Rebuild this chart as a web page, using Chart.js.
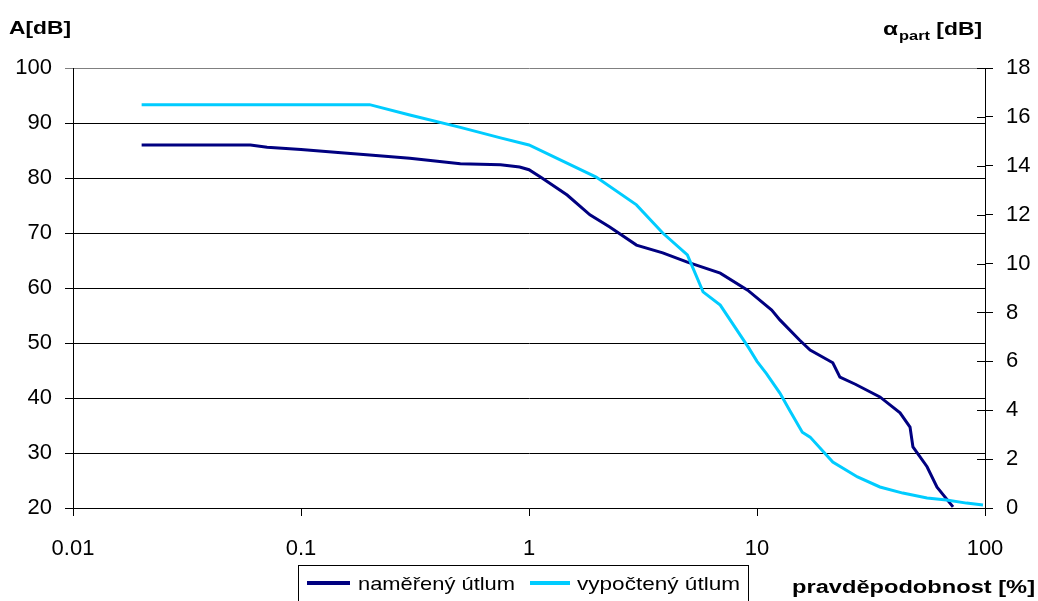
<!DOCTYPE html>
<html>
<head>
<meta charset="utf-8">
<script src="https://cdn.jsdelivr.net/npm/chart.js@4/dist/chart.umd.min.js"></script>
<style>
html,body{margin:0;padding:0;background:#fff;}
#wrap{width:1038px;height:601px;position:relative;}
</style>
</head>
<body>
<div id="wrap"><canvas id="c" width="1038" height="601"></canvas></div>
<script>
// Measured attenuation (left axis A[dB])
const measuredX = [0.02, 0.06, 0.071, 0.1, 0.15, 0.2, 0.3, 0.5, 0.75, 0.91, 1.0, 1.14, 1.47, 1.85, 2.26, 2.96, 3.86, 4.95, 6.9, 9.1, 11.6, 12.6, 15.4, 17.1, 21.5, 23.1, 27, 34.6, 42.4, 46.9, 48.3, 55.7, 61.6, 72.4];
const measuredY = [86, 86, 85.6, 85.2, 84.6, 84.2, 83.6, 82.6, 82.4, 82, 81.5, 80, 76.9, 73.3, 71.1, 67.8, 66.4, 64.7, 62.7, 59.6, 56, 54.2, 50.5, 48.7, 46.4, 43.8, 42.5, 40.2, 37.3, 34.7, 31.1, 27.5, 23.8, 20.2];
// Calculated attenuation (right axis alpha_part [dB])
const calcX = [0.02, 0.2, 0.3, 0.5, 0.75, 1.0, 1.97, 2.96, 3.86, 4.95, 5.8, 6.9, 9.2, 10, 11, 12.6, 13.9, 15.8, 17.1, 21.5, 27.6, 34.6, 43.6, 55.7, 67.8, 83, 98];
const calcY = [16.5, 16.5, 16.08, 15.57, 15.14, 14.85, 13.54, 12.4, 11.25, 10.35, 8.84, 8.3, 6.55, 6.0, 5.5, 4.7, 4.0, 3.1, 2.9, 1.88, 1.27, 0.86, 0.61, 0.41, 0.33, 0.2, 0.12];
// Tick labels
const xTicks = [0.01, 0.1, 1, 10, 100];
const xTickLabels = ['0.01', '0.1', '1', '10', '100'];
const seriesNames = ['naměřený útlum', 'vypočtený útlum'];
const seriesColors = ['#000080', '#00CCFF'];

const FONT = '"Liberation Sans", Arial, sans-serif';

function zip(xs, ys){ return xs.map((x,i)=>({x:x, y:ys[i]})); }

function stretchText(ctx, text, x, y, font, targetW){
  ctx.save();
  ctx.font = font;
  const w = ctx.measureText(text).width;
  const s = targetW ? targetW / w : 1;
  ctx.translate(x, y);
  ctx.scale(s, 1);
  ctx.fillText(text, 0, 0);
  ctx.restore();
  return w * s;
}

const decor = {
  id: 'decor',
  afterDraw(chart){
    const ctx = chart.ctx;
    const y2 = chart.scales.y2;
    const ca = chart.chartArea;
    ctx.save();
    // inner parts of right-axis ticks (cross ticks)
    ctx.strokeStyle = '#000';
    ctx.lineWidth = 1;
    y2.ticks.forEach(t => {
      const py = Math.round(y2.getPixelForValue(t.value)) + 0.5;
      ctx.beginPath();
      ctx.moveTo(ca.right - 8, py);
      ctx.lineTo(ca.right, py);
      ctx.stroke();
    });
    ctx.fillStyle = '#000';
    ctx.textBaseline = 'alphabetic';
    ctx.textAlign = 'left';
    // axis titles
    stretchText(ctx, 'A[dB]', 9, 34, 'bold 19px ' + FONT, 62);
    // alpha_part [dB]
    ctx.font = 'bold 19px ' + FONT;
    let x = 883;
    x += stretchText(ctx, 'α', x, 35, 'bold 19px ' + FONT, 15);
    x += stretchText(ctx, 'part', x + 1, 40, 'bold 13px ' + FONT, 31);
    stretchText(ctx, ' [dB]', x + 1, 35, 'bold 19px ' + FONT, 52);
    stretchText(ctx, 'pravděpodobnost [%]', 792, 593, 'bold 18px ' + FONT, 243);
    // legend
    ctx.strokeStyle = '#000';
    ctx.lineWidth = 1;
    ctx.strokeRect(298.5, 565.5, 450, 60);
    const items = [
      {x0:307, x1:350, tx:358, tw:157},
      {x0:530, x1:570, tx:577, tw:163}
    ];
    items.forEach((it, i) => {
      ctx.strokeStyle = seriesColors[i];
      ctx.lineWidth = 4;
      ctx.beginPath();
      ctx.moveTo(it.x0, 583);
      ctx.lineTo(it.x1, 583);
      ctx.stroke();
      ctx.fillStyle = '#000';
      stretchText(ctx, seriesNames[i], it.tx, 590, '19px ' + FONT, it.tw);
    });
    ctx.restore();
  }
};

new Chart(document.getElementById('c'), {
  type: 'line',
  data: {
    datasets: [
      {
        label: seriesNames[0],
        data: zip(measuredX, measuredY),
        yAxisID: 'y',
        borderColor: seriesColors[0],
        backgroundColor: seriesColors[0],
        borderWidth: 3,
        pointRadius: 0,
        tension: 0,
        fill: false,
        order: 1
      },
      {
        label: seriesNames[1],
        data: zip(calcX, calcY),
        yAxisID: 'y2',
        borderColor: seriesColors[1],
        backgroundColor: seriesColors[1],
        borderWidth: 3,
        pointRadius: 0,
        tension: 0,
        fill: false,
        order: 0
      }
    ]
  },
  options: {
    responsive: false,
    animation: false,
    devicePixelRatio: 1,
    layout: { padding: { top: 68, left: 0, right: 0, bottom: 0 } },
    plugins: { legend: { display: false }, tooltip: { enabled: false } },
    scales: {
      x: {
        type: 'logarithmic',
        min: 0.01,
        max: 100,
        afterBuildTicks(scale){ scale.ticks = xTicks.map(v => ({value: v})); },
        afterFit(scale){ scale.height = 93; },
        grid: { drawOnChartArea: false, drawTicks: true, tickLength: 8, color: '#000' },
        border: { display: true, color: '#000', width: 1 },
        ticks: {
          autoSkip: false,
          maxRotation: 0,
          padding: 20,
          color: '#000',
          font: { family: FONT, size: 22 },
          callback(v){ const i = xTicks.indexOf(v); return i >= 0 ? xTickLabels[i] : ''; }
        }
      },
      y: {
        type: 'linear',
        position: 'left',
        min: 20,
        max: 100,
        afterFit(scale){ scale.width = 73; },
        grid: {
          drawOnChartArea: true,
          tickLength: 8,
          color(ctx){ return ctx.tick && ctx.tick.value === 100 ? '#808080' : '#000'; }
        },
        border: { display: true, color: '#000', width: 1 },
        ticks: { stepSize: 10, padding: 13, color: '#000', font: { family: FONT, size: 22 } }
      },
      y2: {
        type: 'linear',
        position: 'right',
        min: 0,
        max: 18,
        afterFit(scale){ scale.width = 53; },
        grid: { drawOnChartArea: false, drawTicks: true, tickLength: 8, color: '#000' },
        border: { display: true, color: '#000', width: 1 },
        ticks: { stepSize: 2, padding: 13, color: '#000', font: { family: FONT, size: 22 } }
      }
    }
  },
  plugins: [decor]
});
</script>
</body>
</html>
